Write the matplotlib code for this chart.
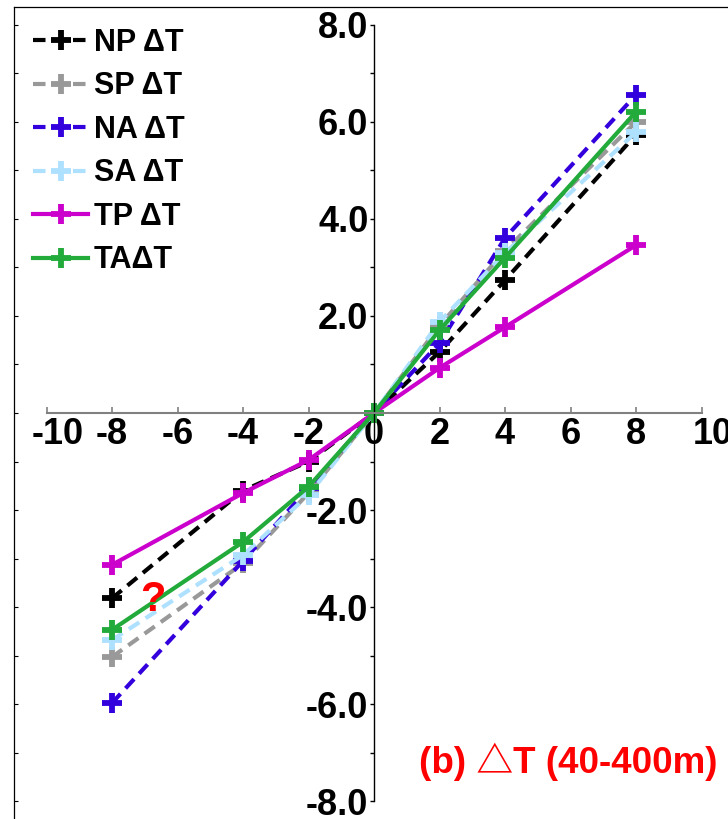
"""
Temperature change (40-400m) response, panel (b).
"""
import matplotlib.pyplot as plt
import matplotlib.transforms as mtransforms

plt.rcParams['font.family'] = ['Liberation Sans', 'Noto Sans CJK SC', 'DejaVu Sans']
plt.rcParams['axes.unicode_minus'] = False

x = [-8, -4, -2, 0, 2, 4, 8]
np_dt = [-3.82, -1.60, -1.00, 0.0, 1.26, 2.74, 5.74]
sp_dt = [-5.03, -3.10, -1.65, 0.0, 1.80, 3.35, 6.00]
na_dt = [-5.98, -3.05, -1.55, 0.0, 1.44, 3.61, 6.56]
sa_dt = [-4.68, -2.93, -1.69, 0.0, 1.88, 3.30, 5.79]
tp_dt = [-3.13, -1.65, -0.97, 0.0, 0.93, 1.77, 3.46]
ta_dt = [-4.47, -2.66, -1.52, 0.0, 1.71, 3.20, 6.21]

series = [
    (np_dt, '#000000', '--'),
    (sp_dt, '#999999', '--'),
    (na_dt, '#3300dd', '--'),
    (sa_dt, '#aee0ff', '--'),
    (tp_dt, '#cc00cc', '-'),
    (ta_dt, '#22aa3a', '-'),
]
labels = ['NP ΔT', 'SP ΔT', 'NA ΔT', 'SA ΔT', 'TP ΔT', 'TAΔT']

xticks = list(range(-10, 11, 2))
yticks = [-8, -6, -4, -2, 2, 4, 6, 8]
yminor = [-7, -5, -3, -1, 1, 3, 5, 7]

W, H = 728, 819
fig = plt.figure(figsize=(W / 100, H / 100), dpi=100)
pos = [13.75 / W, 0.0, 720.5 / W, 812 / H]
xlim = (-11, 11)
ylim = (-8.371, 8.371)

# outer frame with small inward ticks
fr = fig.add_axes(pos, zorder=0)
fr.set_xlim(xlim)
fr.set_ylim(ylim)
fr.spines['right'].set_visible(False)
fr.spines['bottom'].set_visible(False)
fr.set_xticks([])
fr.set_yticks(range(-8, 9))
fr.tick_params(axis='y', direction='in', length=3, width=0.8, labelleft=False)
for s in fr.spines.values():
    s.set_linewidth(0.9)

ax = fig.add_axes(pos, zorder=1)
ax.patch.set_visible(False)
ax.set_xlim(xlim)
ax.set_ylim(ylim)

for (y, c, ls), lab in zip(series, labels):
    ln, = ax.plot(x, y, color=c, linestyle=ls, lw=3, marker='+',
                  markersize=15, mew=4.2, label=lab, clip_on=False)
    if ls == '--':
        ln.set_dashes((3, 1.8))

ax.spines['top'].set_visible(False)
ax.spines['right'].set_visible(False)
ax.spines['left'].set_position(('data', 0))
ax.spines['bottom'].set_position(('data', 0))
ax.spines['left'].set_bounds(-8, 8)
ax.spines['bottom'].set_bounds(-10, 10)
ax.spines['left'].set_linewidth(1.0)
ax.spines['bottom'].set_color('#808080')
ax.spines['bottom'].set_linewidth(1.5)

ax.set_xticks(xticks)
ax.set_xticklabels([str(v) for v in xticks], fontsize=26, fontweight='bold')
ax.set_yticks(yticks)
ax.set_yticklabels([f'{v:.1f}' for v in yticks], fontsize=26, fontweight='bold')
ax.set_yticks(yminor, minor=True)
ax.tick_params(axis='x', direction='in', length=4, width=1.2, color='#808080', pad=3)
ax.tick_params(axis='y', which='both', direction='out', length=3, width=1.0, pad=1)

# the +/-10 labels sit a little right of their ticks
for t in ax.get_xticklabels():
    if t.get_text() in ('-10', '10'):
        t.set_transform(t.get_transform() + mtransforms.ScaledTranslation(0.11, 0, fig.dpi_scale_trans))

ax.legend(loc='upper left', bbox_to_anchor=(33 / W, 1 - 28 / H), bbox_transform=fig.transFigure,
          frameon=False, prop={'size': 22, 'weight': 'bold'}, handlelength=1.8,
          handletextpad=0.2, labelspacing=0.44, borderpad=0, borderaxespad=0)

ax.text(-6.75, -3.86, '?', color='red', fontsize=30, fontweight='bold',
        ha='center', va='center')
fig.text(568 / W, 1 - 762 / H, '(b) △T (40-400m)', color='red', fontsize=26.5,
         fontweight='bold', ha='center', va='center')

fig.savefig('out.png', dpi=100)
